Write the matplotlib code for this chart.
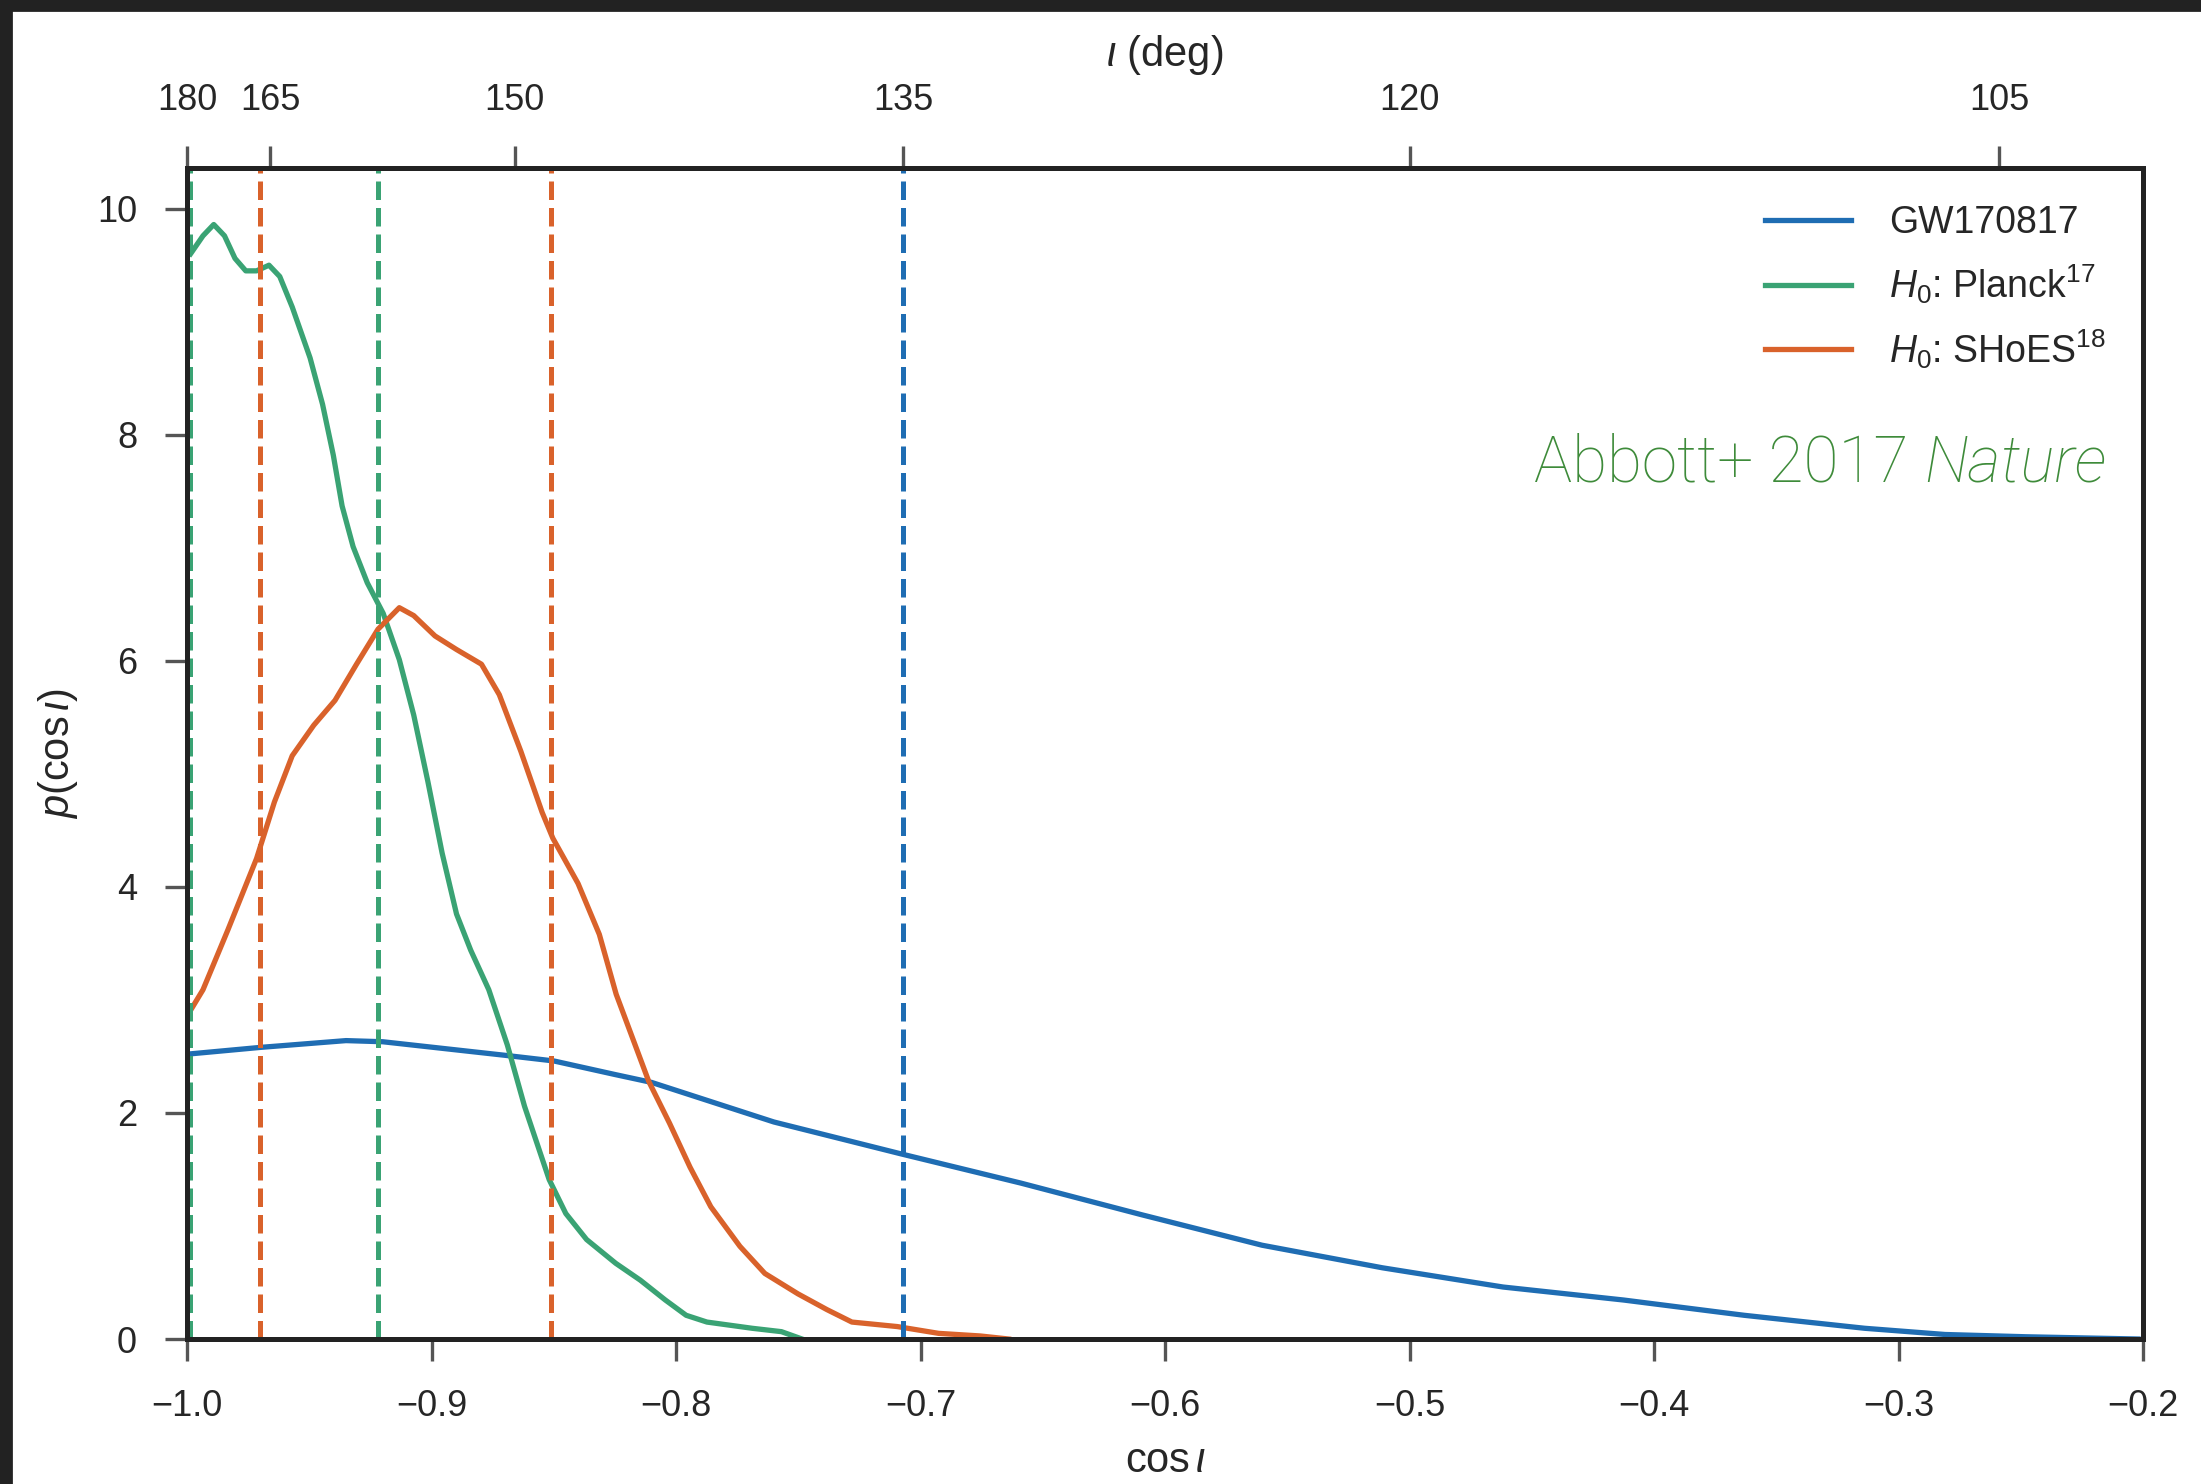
import numpy as np
import matplotlib
matplotlib.use('Agg')
import matplotlib.pyplot as plt
from matplotlib.patches import Rectangle

plt.rcParams['font.family'] = ['Liberation Sans', 'DejaVu Sans']
plt.rcParams['mathtext.fontset'] = 'custom'
plt.rcParams['mathtext.rm'] = 'Liberation Sans'
plt.rcParams['mathtext.it'] = 'Liberation Sans:italic'
plt.rcParams['mathtext.bf'] = 'Liberation Sans:bold'

# posterior on cos(inclination)
gw_cos = [-1.0, -0.97, -0.935, -0.92, -0.895, -0.87, -0.85, -0.825, -0.81, -0.76,
          -0.7084, -0.6591, -0.6097, -0.5604, -0.5111, -0.4618, -0.4125, -0.3632,
          -0.3139, -0.281, -0.2481, -0.2021]
gw_p = [2.52, 2.58, 2.64, 2.63, 2.57, 2.51, 2.46, 2.34, 2.27, 1.92,
        1.64, 1.38, 1.10, 0.83, 0.63, 0.46, 0.345, 0.21,
        0.095, 0.04, 0.02, 0.0]

planck_cos = [-0.9986, -0.9935, -0.9891, -0.9847, -0.9804, -0.976, -0.9716, -0.9665,
              -0.9621, -0.957, -0.9497, -0.9446, -0.9402, -0.9366, -0.9321, -0.9263,
              -0.9198, -0.9132, -0.9073, -0.9015, -0.8957, -0.8898, -0.884, -0.8766,
              -0.8690, -0.862, -0.8519, -0.8451, -0.8366, -0.8247, -0.8146, -0.8044,
              -0.7959, -0.7874, -0.7689, -0.7569, -0.7485]
planck_p = [9.60, 9.76, 9.86, 9.76, 9.56, 9.45, 9.45, 9.50,
            9.40, 9.13, 8.68, 8.27, 7.82, 7.37, 7.01, 6.69,
            6.42, 6.01, 5.52, 4.93, 4.30, 3.76, 3.44, 3.09,
            2.60, 2.06, 1.41, 1.11, 0.88, 0.67, 0.52, 0.345,
            0.21, 0.15, 0.095, 0.065, 0.0]

shoes_cos = [-0.9988, -0.9935, -0.9833, -0.9716, -0.9643, -0.957, -0.9482, -0.9395,
             -0.9307, -0.9219, -0.9132, -0.9073, -0.8986, -0.8898, -0.8796, -0.8723,
             -0.8635, -0.8548, -0.8504, -0.8401, -0.8314, -0.8245, -0.8112, -0.8027,
             -0.7943, -0.7858, -0.7739, -0.7637, -0.7502, -0.7383, -0.7281, -0.7095,
             -0.6926, -0.6756, -0.664]
shoes_p = [2.90, 3.09, 3.62, 4.25, 4.75, 5.16, 5.43, 5.65,
           5.97, 6.28, 6.47, 6.40, 6.22, 6.10, 5.97, 5.70,
           5.20, 4.66, 4.43, 4.03, 3.58, 3.05, 2.28, 1.91,
           1.52, 1.17, 0.82, 0.58, 0.40, 0.26, 0.15, 0.11,
           0.05, 0.027, 0.0]

# credible bounds (dashed)
gw_bounds = [-0.707]
planck_bounds = [-0.999, -0.922]
shoes_bounds = [-0.970, -0.851]

top_deg = [180, 165, 150, 135, 120, 105]
bottom_ticks = [-1.0, -0.9, -0.8, -0.7, -0.6, -0.5, -0.4, -0.3, -0.2]
y_ticks = [0, 2, 4, 6, 8, 10]

c_blue = '#1f6db3'
c_green = '#3aa374'
c_orange = '#d9622b'
txt = '#262626'

fig = plt.figure(figsize=(11.005, 7.42), dpi=200)
ax = fig.add_axes([0.085, 0.0977, 0.8887, 0.7891])

ax.plot(gw_cos, gw_p, color=c_blue, lw=1.9, label='GW170817')
ax.plot(planck_cos, planck_p, color=c_green, lw=1.9, label=r'$H_0$: Planck$^{17}$')
ax.plot(shoes_cos, shoes_p, color=c_orange, lw=1.9, label=r'$H_0$: SHoES$^{18}$')

for b in gw_bounds:
    ax.axvline(b, color=c_blue, ls='--', lw=1.8)
for b in planck_bounds:
    ax.axvline(b, color=c_green, ls='--', lw=1.8)
for b in shoes_bounds:
    ax.axvline(b, color=c_orange, ls='--', lw=1.8)

ax.set_xlim(-1.0, -0.2)
ax.set_ylim(0, 10.36)
ax.set_xticks(bottom_ticks)
ax.set_yticks(y_ticks)
ax.set_xlabel(r'$\cos\iota$', fontsize=15, color=txt, labelpad=6)
ax.set_ylabel(r'$p(\cos\iota)$', fontsize=15, color=txt, labelpad=6)

ax2 = ax.twiny()
ax2.set_xlim(ax.get_xlim())
ax2.set_xticks(np.cos(np.radians(top_deg)))
ax2.set_xticklabels([str(d) for d in top_deg])
ax2.set_xlabel(r'$\iota$ (deg)', fontsize=15, color=txt, labelpad=6)

for a in (ax, ax2):
    a.tick_params(direction='out', length=8, width=1.2, pad=10,
                  labelsize=13, colors='#555555', labelcolor=txt)
    for s in a.spines.values():
        s.set_linewidth(1.8)
        s.set_color('#222222')

leg = ax.legend(loc='upper right', frameon=False, fontsize=13.5,
                handlelength=2.3, handletextpad=1.0, labelspacing=0.55,
                borderaxespad=0.6)
for t in leg.get_texts():
    t.set_color(txt)

ref_font = dict(fontsize=23, color='#3e8b3a', family=['Roboto', 'DejaVu Sans'],
                fontweight='light')
nat = ax.text(0.981, 0.748, 'Nature', transform=ax.transAxes, ha='right',
              va='center', style='italic', **ref_font)
ax.annotate('Abbott+ 2017 ', xy=(0, 0.5), xycoords=nat, ha='right', va='center',
            **ref_font)

# dark frame strips along top and left of the screenshot
fig.add_artist(Rectangle((0, 1 - 10 / 1484), 1, 10 / 1484, transform=fig.transFigure,
                         color='#222222', zorder=10))
fig.add_artist(Rectangle((0, 0), 11 / 2201, 1, transform=fig.transFigure,
                         color='#222222', zorder=10))

fig.savefig('out.png', dpi=200)
